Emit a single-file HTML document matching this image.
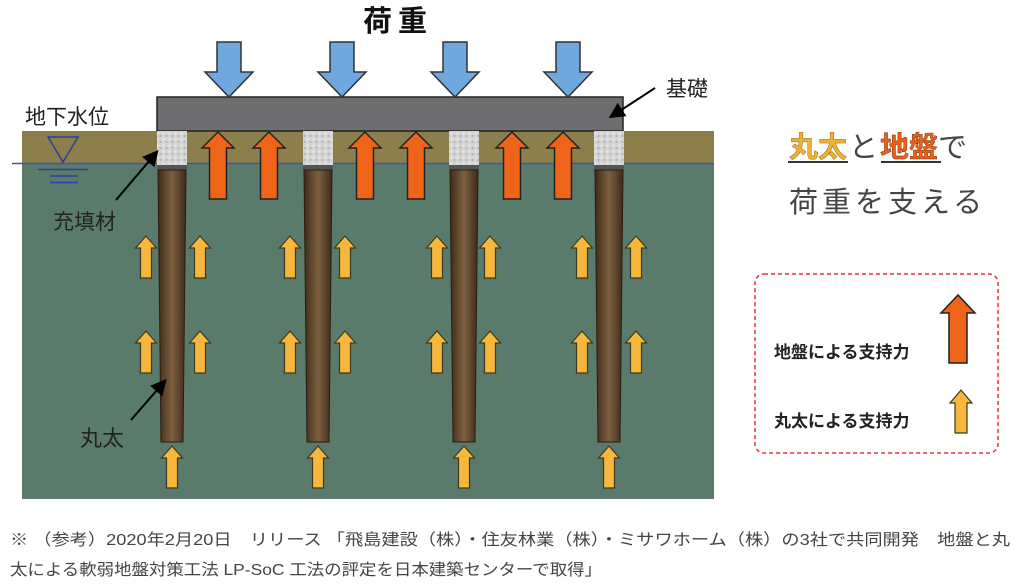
<!DOCTYPE html>
<html><head><meta charset="utf-8"><style>
html,body{margin:0;padding:0;background:#fff;width:1035px;height:585px;overflow:hidden}
svg{display:block}
text{font-family:"Liberation Sans","Noto Sans CJK JP",sans-serif}
</style></head><body>
<svg width="1035" height="585" viewBox="0 0 1035 585" xmlns="http://www.w3.org/2000/svg">
<defs>
<linearGradient id="pile" x1="0" x2="1" y1="0" y2="0">
<stop offset="0" stop-color="#3e2a1a"/><stop offset="0.5" stop-color="#7d6040"/><stop offset="1" stop-color="#3e2a1a"/>
</linearGradient>
<pattern id="speck" width="6" height="6" patternUnits="userSpaceOnUse">
<rect width="6" height="6" fill="#d4d4d4"/><circle cx="1.5" cy="1.5" r="1" fill="#eee"/><circle cx="4.5" cy="4" r="1" fill="#aaa"/>
</pattern>
<path id="ya" d="M-5.5,42 V12 H-10.5 L0,0 L10.5,12 H5.5 V42 Z" fill="#f7b63c" stroke="#3a3a20" stroke-width="1.2"/>
<path id="oa" d="M-8.5,67 V16 H-16 L0,0 L16,16 H8.5 V67 Z" fill="#ee6419" stroke="#222" stroke-width="1.5"/>
<path id="ba" d="M-12,0 V30 H-24 L0,55 L24,30 H12 V0 Z" fill="#6fa8dc" stroke="#333" stroke-width="1.5"/>
<marker id="ah" markerWidth="8" markerHeight="8" refX="6" refY="4" orient="auto"><path d="M0,0 L8,4 L0,8 Z" fill="#000"/></marker>
</defs>

<rect x="22" y="131" width="692" height="33" fill="#8d7f4b"/>
<rect x="22" y="164" width="692" height="335" fill="#5a7a6c"/>
<line x1="12" y1="163.5" x2="714" y2="163.5" stroke="#3a55b0" stroke-width="1.5"/>

<path d="M48,137 L78,137 L63,162 Z" fill="none" stroke="#2a3f9a" stroke-width="1.5"/>
<line x1="38" y1="169.5" x2="88" y2="169.5" stroke="#2a3f9a" stroke-width="1.5"/>
<line x1="50" y1="176" x2="78" y2="176" stroke="#2a3f9a" stroke-width="1.5"/>
<line x1="50" y1="182.5" x2="78" y2="182.5" stroke="#2a3f9a" stroke-width="1.5"/>

<rect x="157" y="97" width="466" height="34" fill="#6e6e70" stroke="#222" stroke-width="1.5"/>

<g>
<rect x="157" y="131" width="30" height="34" fill="url(#speck)"/><rect x="157" y="165" width="30" height="5" fill="#555"/>
<rect x="303" y="131" width="30" height="34" fill="url(#speck)"/><rect x="303" y="165" width="30" height="5" fill="#555"/>
<rect x="449" y="131" width="30" height="34" fill="url(#speck)"/><rect x="449" y="165" width="30" height="5" fill="#555"/>
<rect x="594" y="131" width="30" height="34" fill="url(#speck)"/><rect x="594" y="165" width="30" height="5" fill="#555"/>
<path d="M158,170 H186 L183,442 H161 Z" fill="url(#pile)" stroke="#2a1c10" stroke-width="1"/>
<path d="M304,170 H332 L329,442 H307 Z" fill="url(#pile)" stroke="#2a1c10" stroke-width="1"/>
<path d="M450,170 H478 L475,442 H453 Z" fill="url(#pile)" stroke="#2a1c10" stroke-width="1"/>
<path d="M595,170 H623 L620,442 H598 Z" fill="url(#pile)" stroke="#2a1c10" stroke-width="1"/>
</g>

<use href="#ba" x="229" y="42"/><use href="#ba" x="342" y="42"/><use href="#ba" x="455" y="42"/><use href="#ba" x="568" y="42"/>

<use href="#oa" x="218" y="132"/><use href="#oa" x="269" y="132"/><use href="#oa" x="365" y="132"/>
<use href="#oa" x="416" y="132"/><use href="#oa" x="512" y="132"/><use href="#oa" x="563" y="132"/>

<g>
<use href="#ya" x="146" y="236"/><use href="#ya" x="200" y="236"/><use href="#ya" x="290" y="236"/><use href="#ya" x="345" y="236"/>
<use href="#ya" x="437" y="236"/><use href="#ya" x="490" y="236"/><use href="#ya" x="582" y="236"/><use href="#ya" x="636" y="236"/>
<use href="#ya" x="146" y="331"/><use href="#ya" x="200" y="331"/><use href="#ya" x="290" y="331"/><use href="#ya" x="345" y="331"/>
<use href="#ya" x="437" y="331"/><use href="#ya" x="490" y="331"/><use href="#ya" x="582" y="331"/><use href="#ya" x="636" y="331"/>
<use href="#ya" x="172" y="446"/><use href="#ya" x="318" y="446"/><use href="#ya" x="464" y="446"/><use href="#ya" x="609" y="446"/>
</g>

<text x="398" y="31" font-size="29" font-weight="bold" text-anchor="middle" letter-spacing="6" fill="#111">荷重</text>
<text x="666" y="96" font-size="21" fill="#222">基礎</text>
<line x1="655" y1="88" x2="612" y2="116" stroke="#000" stroke-width="2" marker-end="url(#ah)"/>
<text x="25" y="124" font-size="21" fill="#222">地下水位</text>
<text x="53" y="229" font-size="21" fill="#222">充填材</text>
<line x1="116" y1="200" x2="156" y2="153" stroke="#000" stroke-width="2" marker-end="url(#ah)"/>
<text x="80" y="446" font-size="22" fill="#222">丸太</text>
<line x1="131" y1="420" x2="164" y2="382" stroke="#000" stroke-width="2" marker-end="url(#ah)"/>

<text x="789" y="157" font-size="29" fill="#444"><tspan fill="#f0b030" font-weight="bold" stroke="#7a5a10" stroke-width="0.4">丸太</tspan><tspan dx="2">と</tspan><tspan dx="2" fill="#e8601a" font-weight="bold" stroke="#6a2a08" stroke-width="0.4">地盤</tspan>で</text>
<line x1="788" y1="162" x2="848" y2="162" stroke="#333" stroke-width="2"/>
<line x1="881" y1="162" x2="941" y2="162" stroke="#333" stroke-width="2"/>
<text x="789" y="212" font-size="29" fill="#444" letter-spacing="4">荷重を支える</text>

<rect x="755" y="274" width="243" height="179" rx="9" fill="none" stroke="#e8303a" stroke-width="1.5" stroke-dasharray="4,3"/>
<text x="774" y="358" font-size="17" font-weight="bold" fill="#222">地盤による支持力</text>
<text x="774" y="427" font-size="17" font-weight="bold" fill="#222">丸太による支持力</text>
<path d="M949,363 V313 H941 L958,295 L975,313 H967 V363 Z" fill="#ee6419" stroke="#222" stroke-width="1.5"/>
<path d="M955,433 V403 H950 L961,390 L972,403 H967 V433 Z" fill="#f7b63c" stroke="#3a3a20" stroke-width="1.2"/>

<text x="10" y="545" font-size="16" fill="#444" textLength="1000" lengthAdjust="spacingAndGlyphs">※ （参考）2020年2月20日　リリース 「飛島建設（株）・住友林業（株）・ミサワホーム（株）の3社で共同開発　地盤と丸</text>
<text x="10" y="575" font-size="16" fill="#444" textLength="592" lengthAdjust="spacingAndGlyphs">太による軟弱地盤対策工法 LP-SoC 工法の評定を日本建築センターで取得」</text>
</svg>
</body></html>
